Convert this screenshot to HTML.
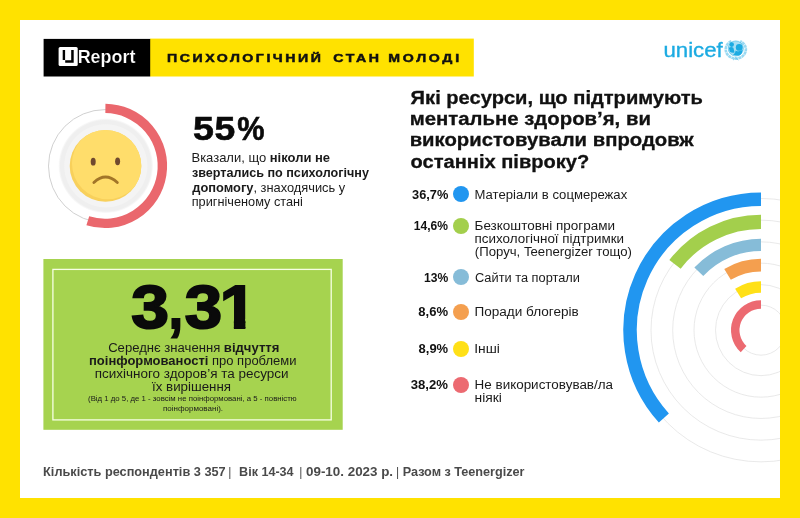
<!DOCTYPE html>
<html lang="uk"><head><meta charset="utf-8"><title>U-Report: Психологічний стан молоді</title>
<style>
html,body{margin:0;padding:0;}
body{width:800px;height:518px;overflow:hidden;background:#ffe200;font-family:"Liberation Sans", Arial, sans-serif;}
#page{position:relative;width:800px;height:518px;overflow:hidden;background:#ffe200;}
header,section,footer,ul,li{display:block;margin:0;padding:0;list-style:none;}
.abs{position:absolute;display:block;}
.t{position:absolute;left:0;top:0;white-space:nowrap;line-height:1;transform-origin:0 0;margin:0;padding:0;}
.t b{font-weight:700;}
.g{display:inline-block;transform-origin:0 0;}
.dot{width:16.4px;height:16.4px;border-radius:50%;}
</style></head><body>
<div id="page">
<div class="abs" style="left:20px;top:20px;width:760px;height:478px;background:#fff"></div>
<header>
<svg class="abs" style="left:40px;top:36px" width="440" height="44" viewBox="40 36 440 44">
<rect x="150" y="38.6" width="323.8" height="37.9" fill="#ffe200"/>
<rect x="43.6" y="38.9" width="106.6" height="37.6" fill="#000"/>
</svg>
<svg class="abs" style="left:58px;top:46px" width="21" height="21" viewBox="58 46 21 21"><rect x="58.6" y="47.1" width="19.1" height="18.8" rx="1.5" fill="#fff"/><path d="M62.7 50 H65.1 V60.3 H71.2 V50 H73.7 V62.7 H65.2 V60 H62.7 Z" fill="#000"/></svg>
<div class="t" id="t0" style="font-size:17.5px;font-weight:700;color:#fff;-webkit-text-stroke:0.2px #000;transform:translate(77.66px,48.79px) scaleX(1.0248);">Report</div>
<div class="t" style="font-size:11.6px;font-weight:700;color:#111;"><span class="g" id="t1" style="letter-spacing:2.057px;-webkit-text-stroke:0.5px #111;transform:translate(167.11px,51.95px) scaleX(1.2200);">ПСИХОЛОГІЧНИЙ</span> <span class="g" id="t2" style="letter-spacing:2.085px;-webkit-text-stroke:0.5px #111;transform:translate(202.35px,51.95px) scaleX(1.2200);">СТАН</span> <span class="g" id="t3" style="letter-spacing:2.241px;-webkit-text-stroke:0.5px #111;transform:translate(214.25px,51.95px) scaleX(1.2200);">МОЛОДІ</span></div>
<div class="t" id="t4" style="font-size:21px;font-weight:400;color:#1cabe2;-webkit-text-stroke:0.35px #1cabe2;transform:translate(663.43px,39.22px) scaleX(1.0581);">unicef</div>
<svg class="abs" style="left:722px;top:36px" width="28" height="26" viewBox="722 36 28 26"><path d="M731.4 41.2 A10.4 9.2 0 0 0 735.8 58.6 A10.4 9.2 0 0 0 740.2 41.2" fill="none" stroke="#1cabe2" stroke-opacity="0.45" stroke-width="2.6" stroke-dasharray="3 0.5"/><circle cx="735.8" cy="48.5" r="7.6" fill="#1cabe2" fill-opacity="0.38"/><circle cx="735.8" cy="48.5" r="7.6" fill="none" stroke="#1cabe2" stroke-opacity="0.6" stroke-width="0.8"/><circle cx="731.7" cy="44.6" r="2.3" fill="#1cabe2"/><path d="M728.8 47.8 Q731.2 46.4 733.4 47.8 L734.6 52.6 Q732 53.4 729.8 51.8 Z" fill="#1cabe2"/><circle cx="739.2" cy="47.4" r="3.4" fill="#1cabe2"/><path d="M735.6 50.4 Q739.2 52.4 742.6 49.8 Q742.6 53.4 740.2 55 Q736.6 56.2 733 54.6 Q735.6 53.6 735.6 50.4 Z" fill="#1cabe2"/><path d="M733 60.2 L735.8 57.6 L738.6 60.2" fill="none" stroke="#1cabe2" stroke-opacity="0.5" stroke-width="0.8"/></svg>
</header>
<section id="stat-help">
<svg class="abs" style="left:36px;top:96px" width="140" height="140" viewBox="36 96 140 140">
<defs><radialGradient id="pg" cx="0.5" cy="0.5" r="0.5"><stop offset="0" stop-color="#f4f4f4"/><stop offset="0.87" stop-color="#f4f4f4"/><stop offset="0.89" stop-color="#efefef"/><stop offset="0.96" stop-color="#efefef"/><stop offset="1" stop-color="#fbfbfb"/></radialGradient><clipPath id="fc"><circle cx="105.5" cy="165.9" r="35.8"/></clipPath></defs>
<circle cx="105" cy="166.1" r="56.5" fill="none" stroke="#c4c4c4" stroke-width="0.8"/>
<path d="M105.40 108.40 A57.5 57.5 0 1 1 87.80 220.80" fill="none" stroke="#ea676d" stroke-width="9.4"/>
<circle cx="105.8" cy="165.8" r="47.2" fill="url(#pg)"/>
<circle cx="105.5" cy="165.9" r="35.8" fill="#f8d05b"/>
<circle cx="107.6" cy="163.6" r="35.6" fill="#ffdd6b" clip-path="url(#fc)"/>
<ellipse cx="93.2" cy="161.7" rx="2.5" ry="3.9" fill="#70492f"/>
<ellipse cx="117.6" cy="161.3" rx="2.5" ry="3.9" fill="#70492f"/>
<path d="M93.9 182.5 Q105.5 171.6 117.3 182.5" fill="none" stroke="#a27528" stroke-width="2.9" stroke-linecap="round"/>
</svg>
<div class="t" style="font-size:34px;font-weight:700;color:#0a0a0a;"><span class="g" id="t5" style="-webkit-text-stroke:0.6px #0a0a0a;transform:translate(193.04px,111.12px) scaleX(1.1060);">5</span><span class="g" id="t6" style="-webkit-text-stroke:0.6px #0a0a0a;transform:translate(195.48px,111.12px) scaleX(1.0981);">5</span><span class="g" id="t7" style="-webkit-text-stroke:0.6px #0a0a0a;transform:translate(199.15px,111.12px) scaleX(0.9033);">%</span></div>
<div class="t" id="t8" style="font-size:13px;font-weight:400;color:#1a1a1a;transform:translate(191.49px,151.00px) scaleX(0.9987);">Вказали, що <b>ніколи не</b></div>
<div class="t" id="t9" style="font-size:13px;font-weight:400;color:#1a1a1a;transform:translate(191.88px,165.90px) scaleX(0.9693);"><b>звертались по психологічну</b></div>
<div class="t" id="t10" style="font-size:13px;font-weight:400;color:#1a1a1a;transform:translate(192.28px,180.99px) scaleX(0.9880);"><b>допомогу</b>, знаходячись у</div>
<div class="t" id="t11" style="font-size:13px;font-weight:400;color:#1a1a1a;transform:translate(191.70px,195.20px) scaleX(0.9796);">пригніченому стані</div>
</section>
<section id="stat-awareness">
<svg class="abs" style="left:40px;top:255px" width="310" height="180" viewBox="40 255 310 180">
<rect x="43.4" y="259" width="299.3" height="170.8" fill="#a6d34f"/>
<rect x="52.9" y="269.4" width="278.3" height="150.5" fill="none" stroke="#f6ffe4" stroke-width="1.3"/>
</svg>
<div class="t" style="font-size:61px;font-weight:700;color:#0a0a0a;"><span class="g" id="t12" style="-webkit-text-stroke:2px #0a0a0a;transform:translate(131.18px,277.26px) scaleX(1.1113);">3</span><span class="g" id="t13" style="-webkit-text-stroke:2px #0a0a0a;transform:translate(134.83px,277.26px) scaleX(0.8355);">,</span><span class="g" id="t14" style="-webkit-text-stroke:2px #0a0a0a;transform:translate(133.65px,277.26px) scaleX(1.1010);">3</span><span class="g" id="t15" style="-webkit-text-stroke:2px #0a0a0a;clip-path:polygon(0 0,100% 0,100% 0.685em,0.388em 0.685em,0.388em 1em,0.213em 1em,0.213em 0.685em,0 0.685em);transform:translate(134.87px,277.26px) scaleX(1.0782);">1</span></div>
<div class="t" id="t16" style="font-size:12px;font-weight:400;color:#1a1a1a;transform:translate(108.17px,341.54px) scaleX(1.0909);">Середнє значення <b>відчуття</b></div>
<div class="t" id="t17" style="font-size:12px;font-weight:400;color:#1a1a1a;transform:translate(88.98px,354.85px) scaleX(1.0831);"><b>поінформованості</b> про проблеми</div>
<div class="t" id="t18" style="font-size:12px;font-weight:400;color:#1a1a1a;transform:translate(94.78px,367.94px) scaleX(1.1221);">психічного здоров’я та ресурси</div>
<div class="t" id="t19" style="font-size:12px;font-weight:400;color:#1a1a1a;transform:translate(152.01px,380.84px) scaleX(1.1102);">їх вирішення</div>
<div class="t" id="t20" style="font-size:7px;font-weight:400;color:#1a1a1a;transform:translate(88.07px,395.07px) scaleX(1.1136);">(Від 1 до 5, де 1 - зовсім не поінформовані, а 5 - повністю</div>
<div class="t" id="t21" style="font-size:7px;font-weight:400;color:#1a1a1a;transform:translate(162.94px,405.04px) scaleX(1.1430);">поінформовані).</div>
</section>
<section id="resources">
<div class="t" id="t29" style="font-size:18px;font-weight:700;color:#111;-webkit-text-stroke:0.3px #111;transform:translate(410.60px,88.76px) scaleX(1.1176);">Які ресурси, що підтримують</div>
<div class="t" id="t30" style="font-size:18px;font-weight:700;color:#111;-webkit-text-stroke:0.3px #111;transform:translate(409.65px,110.06px) scaleX(1.1301);">ментальне здоров’я, ви</div>
<div class="t" id="t31" style="font-size:18px;font-weight:700;color:#111;-webkit-text-stroke:0.3px #111;transform:translate(409.66px,131.36px) scaleX(1.1262);">використовували впродовж</div>
<div class="t" id="t32" style="font-size:18px;font-weight:700;color:#111;-webkit-text-stroke:0.3px #111;transform:translate(410.49px,152.76px) scaleX(1.1153);">останніх півроку?</div>
<svg class="abs" style="left:600px;top:170px" width="180" height="328" viewBox="600 170 180 328">
<circle cx="761" cy="330.15" r="131.7" fill="none" stroke="#e3e3e3" stroke-width="0.8"/>
<circle cx="761" cy="330.15" r="110" fill="none" stroke="#e3e3e3" stroke-width="0.8"/>
<circle cx="761" cy="330.15" r="88.3" fill="none" stroke="#e3e3e3" stroke-width="0.8"/>
<circle cx="761" cy="330.15" r="67" fill="none" stroke="#e3e3e3" stroke-width="0.8"/>
<circle cx="761" cy="330.15" r="45.5" fill="none" stroke="#e3e3e3" stroke-width="0.8"/>
<circle cx="761" cy="330.15" r="25" fill="none" stroke="#e3e3e3" stroke-width="0.8"/>
<path d="M761.00 199.20 A130.95 130.95 0 0 0 663.87 417.98" fill="none" stroke="#2196f0" stroke-width="13.50"/>
<path d="M761.00 221.85 A108.30 108.30 0 0 0 675.01 264.31" fill="none" stroke="#a3cf4c" stroke-width="14.20"/>
<path d="M761.00 244.85 A85.30 85.30 0 0 0 698.82 271.76" fill="none" stroke="#86bcd8" stroke-width="12.20"/>
<path d="M761.00 265.10 A65.05 65.05 0 0 0 727.54 274.37" fill="none" stroke="#f49f4f" stroke-width="12.70"/>
<path d="M761.00 287.00 A43.15 43.15 0 0 0 738.11 293.57" fill="none" stroke="#ffe017" stroke-width="11.30"/>
<path d="M761.00 304.40 A25.75 25.75 0 0 0 743.61 349.14" fill="none" stroke="#ec6a71" stroke-width="8.50"/>
</svg>
<ul>
<li>
<div class="abs dot" style="left:453.0px;top:186.0px;background:#2196f0"></div>
<div class="t" id="t33" style="font-size:12px;font-weight:700;color:#111;transform:translate(412.07px,188.84px) scaleX(1.0648);">36,7%</div>
<div class="t" id="t34" style="font-size:12.3px;font-weight:400;color:#1a1a1a;transform:translate(474.50px,188.59px) scaleX(1.0655);">Матеріали в соцмережах</div>
</li>
<li>
<div class="abs dot" style="left:453.0px;top:217.8px;background:#a3cf4c"></div>
<div class="t" id="t35" style="font-size:12px;font-weight:700;color:#111;transform:translate(413.74px,220.04px) scaleX(1.0040);">14,6%</div>
<div class="t" id="t36" style="font-size:12.3px;font-weight:400;color:#1a1a1a;transform:translate(474.55px,219.98px) scaleX(1.0968);">Безкоштовні програми</div>
<div class="t" id="t37" style="font-size:12.3px;font-weight:400;color:#1a1a1a;transform:translate(474.54px,232.59px) scaleX(1.0904);">психологічної підтримки</div>
<div class="t" id="t38" style="font-size:12.3px;font-weight:400;color:#1a1a1a;transform:translate(474.83px,246.04px) scaleX(1.0703);">(Поруч, Teenergizer тощо)</div>
</li>
<li>
<div class="abs dot" style="left:453.0px;top:268.8px;background:#86bcd8"></div>
<div class="t" id="t39" style="font-size:12px;font-weight:700;color:#111;transform:translate(424.06px,272.04px) scaleX(1.0068);">13%</div>
<div class="t" id="t40" style="font-size:12.3px;font-weight:400;color:#1a1a1a;transform:translate(474.96px,272.04px) scaleX(1.0413);">Сайти та портали</div>
</li>
<li>
<div class="abs dot" style="left:453.0px;top:303.9px;background:#f49f4f"></div>
<div class="t" id="t41" style="font-size:12px;font-weight:700;color:#111;transform:translate(418.35px,305.74px) scaleX(1.0874);">8,6%</div>
<div class="t" id="t42" style="font-size:12.3px;font-weight:400;color:#1a1a1a;transform:translate(474.39px,305.54px) scaleX(1.1030);">Поради блогерів</div>
</li>
<li>
<div class="abs dot" style="left:453.0px;top:341.0px;background:#ffe017"></div>
<div class="t" id="t43" style="font-size:12px;font-weight:700;color:#111;transform:translate(418.57px,343.04px) scaleX(1.0810);">8,9%</div>
<div class="t" id="t44" style="font-size:12.3px;font-weight:400;color:#1a1a1a;transform:translate(474.22px,342.79px) scaleX(1.1221);">Інші</div>
</li>
<li>
<div class="abs dot" style="left:453.0px;top:376.8px;background:#ec6a71"></div>
<div class="t" id="t45" style="font-size:12px;font-weight:700;color:#111;transform:translate(410.71px,378.64px) scaleX(1.0944);">38,2%</div>
<div class="t" id="t46" style="font-size:12.3px;font-weight:400;color:#1a1a1a;transform:translate(474.57px,379.44px) scaleX(1.0931);">Не використовував/ла</div>
<div class="t" id="t47" style="font-size:12.3px;font-weight:400;color:#1a1a1a;transform:translate(474.62px,392.44px) scaleX(1.1247);">ніякі</div>
</li>
</ul>
</section>
<footer>
<div class="t" style="font-size:12px;font-weight:700;color:#4a4a4a;"><span class="g" id="t22" style="transform:translate(43.09px,465.94px) scaleX(1.0606);">Кількість респондентів 3 357</span> <span class="g" id="t23" style="font-weight:400;transform:translate(52.72px,465.94px) scaleX(1.0000);">|</span> <span class="g" id="t24" style="transform:translate(57.09px,465.94px) scaleX(1.0476);">Вік 14-34</span> <span class="g" id="t25" style="font-weight:400;transform:translate(61.92px,465.94px) scaleX(1.0000);">|</span> <span class="g" id="t26" style="transform:translate(62.02px,465.94px) scaleX(1.1153);">09-10. 2023 р.</span> <span class="g" id="t27" style="font-weight:400;transform:translate(70.90px,465.94px) scaleX(1.0000);">|</span> <span class="g" id="t28" style="transform:translate(70.67px,465.94px) scaleX(1.0547);">Разом з Teenergizer</span></div>
</footer>
</div>
</body></html>
